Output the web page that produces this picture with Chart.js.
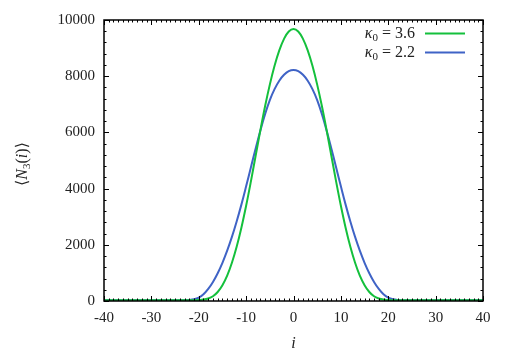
<!DOCTYPE html>
<html>
<head>
<meta charset="utf-8">
<script src="https://cdn.jsdelivr.net/npm/chart.js@4/dist/chart.umd.min.js"></script>
<style>
  html, body { margin: 0; padding: 0; background: #fff; }
  #wrap { width: 513px; height: 353px; }
</style>
</head>
<body>
<div id="wrap"><canvas id="profile-chart"></canvas></div>
<script>
// site index i
const siteIndex = [-40, -23, -22, -21, -20, -19, -18, -17, -16, -15, -14, -13, -12, -11, -10, -9, -8, -7, -6, -5, -4, -3, -2, -1,
  0, 1, 2, 3, 4, 5, 6, 7, 8, 9, 10, 11, 12, 13, 14, 15, 16, 17, 18, 19, 20, 21, 22, 23, 40];

// <N3(i)> for kappa0 = 3.6
const n3Kappa36 = [30, 30, 30, 30, 35, 50, 90, 170, 320, 560, 900, 1360, 1930, 2610, 3390, 4250, 5160, 6070, 6930, 7700, 8370, 8920, 9330, 9590,
  9680, 9590, 9330, 8920, 8370, 7700, 6930, 6070, 5160, 4250, 3390, 2610, 1930, 1360, 900, 560, 320, 170, 90, 50, 35, 30, 30, 30, 30];

// <N3(i)> for kappa0 = 2.2
const n3Kappa22 = [30, 30, 35, 60, 120, 240, 430, 680, 990, 1360, 1790, 2280, 2830, 3430, 4080, 4750, 5420, 6060, 6650, 7150, 7540, 7840, 8050, 8180,
  8220, 8180, 8050, 7840, 7540, 7150, 6650, 6060, 5420, 4750, 4080, 3430, 2830, 2280, 1790, 1360, 990, 680, 430, 240, 120, 60, 35, 30, 30];

const seriesLabels = ['3.6', '2.2'];
const seriesColors = ['#14c03c', '#3f63c6'];

const xTicks = [-40, -30, -20, -10, 0, 10, 20, 30, 40];
const yTicks = [0, 2000, 4000, 6000, 8000, 10000];

const serif = '"Liberation Serif", "DejaVu Serif", serif';

function toPoints(ys) {
  return siteIndex.map((x, k) => ({ x: x, y: ys[k] }));
}

// frame with inward ticks on all four sides, legend and y title
const framePlugin = {
  id: 'frame',
  afterDatasetsDraw(chart) {
    const ctx = chart.ctx;
    const a = chart.chartArea;
    const xs = chart.scales.x, ys = chart.scales.y;
    ctx.save();
    ctx.strokeStyle = '#000';
    ctx.lineWidth = 1;

    // minor + major ticks
    ctx.beginPath();
    for (let v = -40; v <= 40; v += 1) {
      const px = Math.round(xs.getPixelForValue(v)) + 0.5;
      const len = v % 10 === 0 ? 5 : 2.5;
      ctx.moveTo(px, a.bottom); ctx.lineTo(px, a.bottom - len);
      ctx.moveTo(px, a.top); ctx.lineTo(px, a.top + len);
    }
    for (let v = 0; v <= 10000; v += 400) {
      const py = Math.round(ys.getPixelForValue(v)) + 0.5;
      const len = v % 2000 === 0 ? 5 : 2.5;
      ctx.moveTo(a.left, py); ctx.lineTo(a.left + len, py);
      ctx.moveTo(a.right, py); ctx.lineTo(a.right - len, py);
    }
    ctx.stroke();

    ctx.lineWidth = 1.5;
    ctx.strokeRect(a.left, a.top, a.right - a.left, a.bottom - a.top);

    // legend
    ctx.fillStyle = '#222';
    ctx.textBaseline = 'alphabetic';
    const rows = [33, 52];
    chart.data.datasets.forEach((ds, k) => {
      const y = rows[k];
      const tail = ' = ' + seriesLabels[k];
      ctx.font = '16px ' + serif;
      const tailW = ctx.measureText(tail).width;
      ctx.font = '11px ' + serif;
      const subW = ctx.measureText('0').width;
      ctx.font = 'italic 16px ' + serif;
      const kW = ctx.measureText('κ').width;
      let x = 415 - tailW - subW - kW;
      ctx.fillText('κ', x, y + 5);
      x += kW;
      ctx.font = '11px ' + serif;
      ctx.fillText('0', x, y + 8);
      x += subW;
      ctx.font = '16px ' + serif;
      ctx.fillText(tail, x, y + 5);

      ctx.strokeStyle = ds.borderColor;
      ctx.lineWidth = 2;
      ctx.beginPath();
      ctx.moveTo(425, y + 0.5);
      ctx.lineTo(465, y + 0.5);
      ctx.stroke();
    });

    // y title <N3(i)>
    ctx.translate(27, 164);
    ctx.rotate(-Math.PI / 2);
    const parts = [
      ['⟨', '16px ', 0],
      ['N', 'italic 16px ', 0],
      ['3', '11px ', 3],
      ['(', '16px ', 0],
      ['i', 'italic 16px ', 0],
      [')', '16px ', 0],
      ['⟩', '16px ', 0]
    ];
    let total = 0;
    parts.forEach(p => { ctx.font = p[1] + serif; total += ctx.measureText(p[0]).width; });
    let px = -total / 2;
    parts.forEach(p => {
      ctx.font = p[1] + serif;
      ctx.fillText(p[0], px, p[2]);
      px += ctx.measureText(p[0]).width;
    });
    ctx.restore();
  }
};

new Chart(document.getElementById('profile-chart'), {
  type: 'line',
  data: {
    datasets: [
      {
        label: 'κ0 = ' + seriesLabels[0],
        data: toPoints(n3Kappa36),
        borderColor: seriesColors[0],
        borderWidth: 2,
        pointRadius: 0,
        tension: 0.4,
        fill: false
      },
      {
        label: 'κ0 = ' + seriesLabels[1],
        data: toPoints(n3Kappa22),
        borderColor: seriesColors[1],
        borderWidth: 2,
        pointRadius: 0,
        tension: 0.4,
        fill: false
      }
    ]
  },
  options: {
    responsive: true,
    maintainAspectRatio: false,
    animation: false,
    events: [],
    layout: { padding: { left: 0, right: 30, top: 20, bottom: 0 } },
    plugins: {
      legend: { display: false },
      tooltip: { enabled: false }
    },
    scales: {
      x: {
        type: 'linear',
        min: -40,
        max: 40,
        afterBuildTicks: s => { s.ticks = xTicks.map(v => ({ value: v })); },
        afterFit: s => { s.height = 52; },
        grid: { display: false, drawTicks: false },
        border: { display: false },
        ticks: { color: '#222', padding: 8, font: { family: serif, size: 15 }, callback: v => String(v) },
        title: {
          display: true,
          text: 'i',
          color: '#222',
          padding: { top: 4, bottom: 0 },
          font: { family: serif, size: 16, style: 'italic' }
        }
      },
      y: {
        min: 0,
        max: 10000,
        afterBuildTicks: s => { s.ticks = yTicks.map(v => ({ value: v })); },
        afterFit: s => { s.width = 104; },
        grid: { display: false, drawTicks: false },
        border: { display: false },
        ticks: { color: '#222', padding: 9, font: { family: serif, size: 15 }, callback: v => String(v) }
      }
    }
  },
  plugins: [framePlugin]
});
</script>
</body>
</html>
